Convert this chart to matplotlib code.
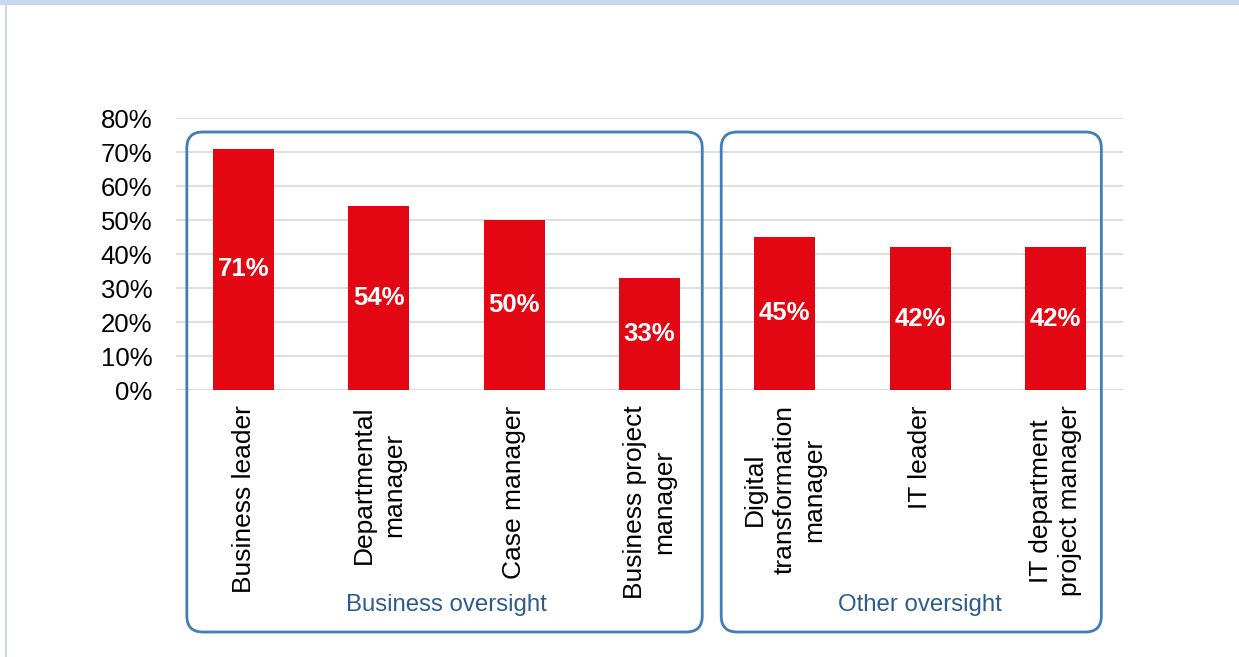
import matplotlib
matplotlib.use("Agg")
import matplotlib.pyplot as plt
from matplotlib.patches import FancyBboxPatch, Rectangle
from matplotlib.ticker import PercentFormatter

plt.rcParams["font.family"] = ["Liberation Sans", "DejaVu Sans"]

# data
categories = [
    "Business leader",
    "Departmental\nmanager",
    "Case manager",
    "Business project\nmanager",
    "Digital\ntransformation\nmanager",
    "IT leader",
    "IT department\nproject manager",
]
shares = [71, 54, 50, 33, 45, 42, 42]
groups = ["Business oversight", "Other oversight"]
group_members = [(0, 3), (4, 6)]
y_ticks = [0, 10, 20, 30, 40, 50, 60, 70, 80]

BAR_RED = "#E30613"
BOX_BLUE = "#3F7EB6"
GROUP_TEXT = "#2E5B8E"
GRID = "#D9D9D9"

W, H, DPI = 1239, 657, 100
fig = plt.figure(figsize=(W / DPI, H / DPI), dpi=DPI)
fig.patch.set_facecolor("white")

# light blue frame bits of the original page (top band + left rule)
fig.patches.append(Rectangle((0, 1 - 5 / H), 1, 5 / H, transform=fig.transFigure,
                             facecolor="#C6D9F1", edgecolor="none"))
fig.patches.append(Rectangle((5 / W, 0), 2 / W, 1, transform=fig.transFigure,
                             facecolor="#C6D9F1", edgecolor="none"))

ax = fig.add_axes([176 / W, 1 - 390 / H, (1123 - 176) / W, (390 - 118) / H])
x = list(range(len(categories)))
ax.bar(x, shares, width=0.45, color=BAR_RED, zorder=3)

for xi, v in zip(x, shares):
    ax.text(xi, v / 2, f"{v}%", ha="center", va="center", color="white",
            fontsize=18.5, fontweight="bold", zorder=4)

ax.set_xlim(-0.5, len(categories) - 0.5)
ax.set_ylim(0, 80)
ax.set_yticks(y_ticks)
ax.yaxis.set_major_formatter(PercentFormatter(decimals=0))
ax.set_xticks(x)
ax.set_xticklabels(categories, rotation=90, fontsize=19, ha="center", va="top",
                   multialignment="center", linespacing=1.3)
ax.tick_params(axis="x", length=0, pad=11)
ax.tick_params(axis="y", length=0, pad=17, labelsize=18.5)
ax.grid(axis="y", color=GRID, linewidth=1.2, zorder=0)
for s in ax.spines.values():
    s.set_visible(False)
ax.axhline(0, color=GRID, linewidth=1.2, zorder=1)

# rounded group boxes, positioned from the data axis
fig.canvas.draw()
to_px = ax.transData.transform
box_top_px = H - 132
box_bot_px = H - 632
extents = [(-0.42, 3.39), (3.53, 6.34)]
for (gx0, gx1), name, (a, b) in zip(extents, groups, group_members):
    px0 = to_px((gx0, 0))[0]
    px1 = to_px((gx1, 0))[0]
    box = FancyBboxPatch((px0 / DPI, box_bot_px / DPI),
                         (px1 - px0) / DPI, (box_top_px - box_bot_px) / DPI,
                         boxstyle="round,pad=0,rounding_size=0.16",
                         transform=fig.dpi_scale_trans, facecolor="none",
                         edgecolor=BOX_BLUE, linewidth=2, zorder=5)
    fig.patches.append(box)
    cx = (a + b) / 2
    ax.text(cx, -63.2, name, ha="center", va="center", color=GROUP_TEXT,
            fontsize=17.3, clip_on=False)

fig.savefig("out.png", dpi=DPI)
